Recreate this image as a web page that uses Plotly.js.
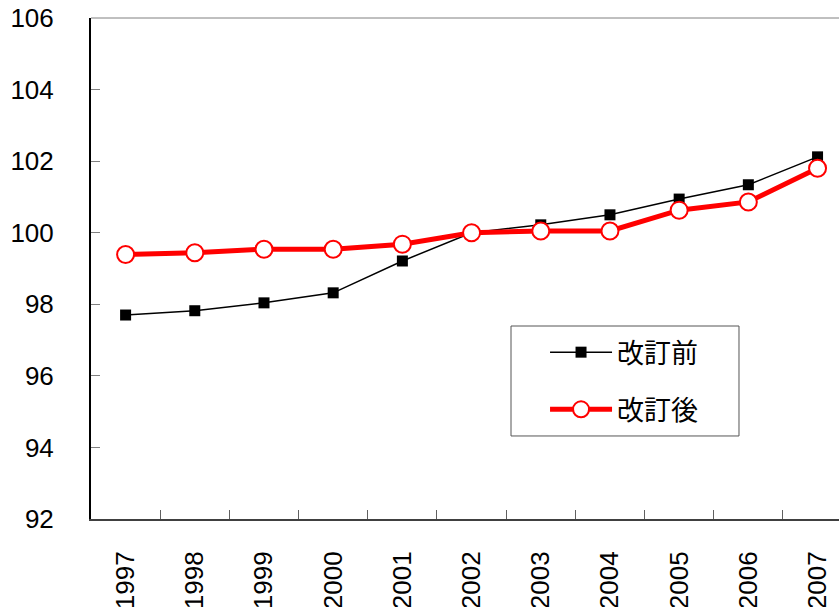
<!DOCTYPE html>
<html>
<head>
<meta charset="utf-8">
<script src="https://cdn.plot.ly/plotly-3.0.1.min.js"></script>
<style>html,body{margin:0;padding:0;background:#fff;}#chart{width:839px;height:607px;}</style>
</head>
<body>
<div id="chart"></div>
<script>
const years = ["1997","1998","1999","2000","2001","2002","2003","2004","2005","2006","2007"];
const before = [97.7, 97.82, 98.04, 98.32, 99.21, 100.0, 100.22, 100.5, 100.94, 101.34, 102.12];
const after = [99.39, 99.44, 99.54, 99.54, 99.68, 100.0, 100.05, 100.05, 100.63, 100.86, 101.8];
const seriesNames = ["改訂前", "改訂後"];

const FONT = "Liberation Sans, Arial, Noto Sans CJK JP, sans-serif";

const traces = [
  {
    x: years, y: before, name: seriesNames[0], type: "scatter", mode: "lines+markers",
    line: {color: "#000000", width: 1.5},
    marker: {symbol: "square", size: 11, color: "#000000"},
    legendgroup: "a"
  },
  {
    x: years, y: after, name: seriesNames[1], type: "scatter", mode: "lines+markers",
    line: {color: "#ff0000", width: 5},
    marker: {symbol: "circle", size: 17, color: "#ffffff", line: {color: "#ff0000", width: 2}},
    legendgroup: "b"
  }
];

const layout = {
  width: 839, height: 607,
  margin: {l: 91, r: 0, t: 18, b: 88},
  paper_bgcolor: "#ffffff", plot_bgcolor: "#ffffff",
  font: {family: FONT, size: 24, color: "#000000"},
  showlegend: true,
  legend: {
    x: 0.6070, y: 0.381, xanchor: "left", yanchor: "top",
    bgcolor: "rgba(0,0,0,0)", borderwidth: 0,
    font: {family: "Noto Sans CJK JP, sans-serif", size: 27, color: "#000000"},
    itemwidth: 62, tracegroupgap: 19, traceorder: "grouped"
  },
  xaxis: {
    type: "category",
    range: [-0.5, 10.31],
    showgrid: false, zeroline: false,
    showline: true, linecolor: "#404040", linewidth: 2,
    ticks: "inside", ticklen: 9, tickcolor: "#606060", tickwidth: 1,
    tickson: "boundaries",
    tickangle: -90,
    ticklabelstandoff: 20,
    tickfont: {family: FONT, size: 26, color: "#000000"}
  },
  yaxis: {
    range: [92, 106],
    dtick: 2,
    showgrid: false, zeroline: false,
    showline: true, linecolor: "#000000", linewidth: 2,
    ticks: "inside", ticklen: 9, tickcolor: "#808080", tickwidth: 1,
    ticklabelstandoff: 30,
    tickfont: {family: FONT, size: 26, color: "#000000"}
  },
  shapes: [
    {type: "line", xref: "paper", yref: "paper", x0: 0, x1: 1, y0: 1, y1: 1,
     line: {color: "#808080", width: 1}},
    {type: "rect", xref: "paper", yref: "paper", x0: 0.5615, x1: 0.8663, y0: 0.1657, y1: 0.3852,
     fillcolor: "#ffffff", line: {color: "#555555", width: 1}, layer: "above"}
  ]
};

Plotly.newPlot("chart", traces, layout, {displayModeBar: false, staticPlot: true});
</script>
</body>
</html>
